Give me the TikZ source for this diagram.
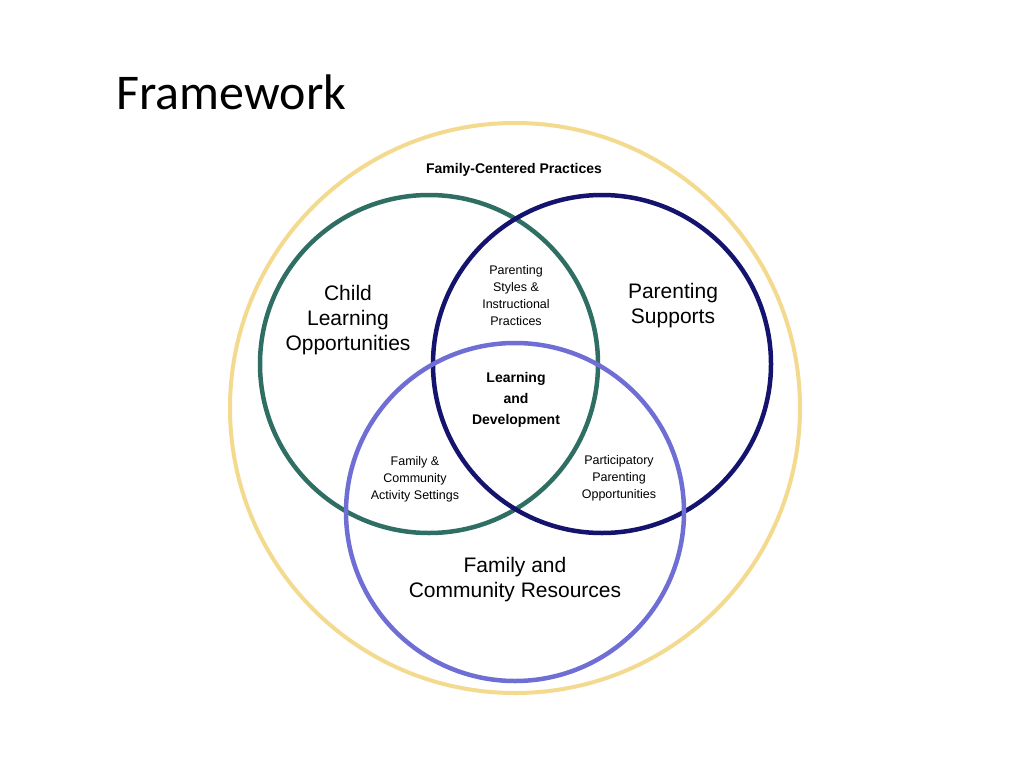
\documentclass[tikz,border=0pt]{standalone}
\usepackage{fontspec}
\setmainfont{Liberation Sans}
\newfontfamily\titlefont{Carlito}
\definecolor{outerc}{HTML}{F3DA8E}
\definecolor{greenc}{HTML}{2F6E62}
\definecolor{navyc}{HTML}{14146E}
\definecolor{purplec}{HTML}{6E6ED4}
\begin{document}
\begin{tikzpicture}[x=1pt,y=-1pt,
  ring/.style={line width=4.5pt},
  big/.style={align=center,font=\fontsize{21}{25}\selectfont},
  small/.style={align=center,font=\fontsize{12.5}{17}\selectfont},
  bold/.style={align=center,font=\bfseries\fontsize{14}{21}\selectfont}]
\useasboundingbox (0,0) rectangle (1024,768);
\node[anchor=west,font=\titlefont\fontsize{50}{56}\selectfont] (title) at (113,92) {Framework};
\draw[outerc,line width=4pt] (515,408) circle (285) coordinate (outer);
\draw[greenc,ring] (429,364) circle (169);
\draw[navyc,ring] (602,364) circle (169);
\draw[purplec,ring] (515,512) circle (169);
\node[font=\bfseries\fontsize{14}{17}\selectfont] (fcp) at (514,170) {Family-Centered Practices};
\node[big] (clo) at (348,320) {Child\\Learning\\Opportunities};
\node[big] (ps) at (673,306) {Parenting\\Supports};
\node[big] (fcr) at (515,580) {Family and\\Community Resources};
\node[small] (psi) at (516,296) {Parenting\\Styles \&\\Instructional\\Practices};
\node[bold] (ld) at (516,400) {Learning\\and\\Development};
\node[small] (fca) at (415,479) {Family \&\\Community\\Activity Settings};
\node[small] (ppo) at (619,478) {Participatory\\Parenting\\Opportunities};
\end{tikzpicture}
\end{document}
